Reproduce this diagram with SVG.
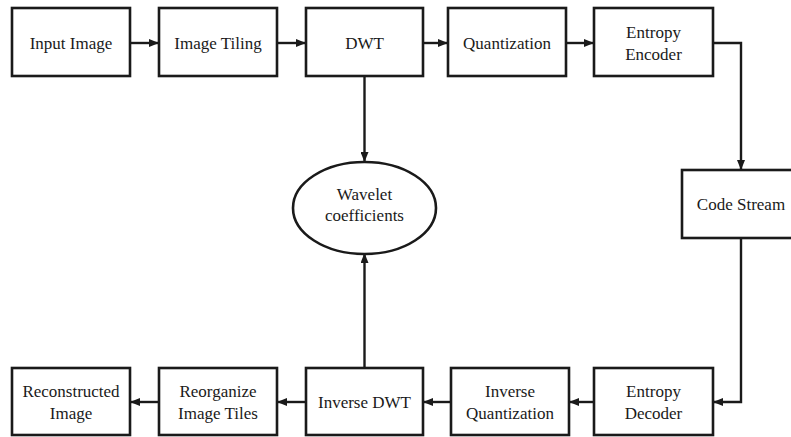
<svg xmlns="http://www.w3.org/2000/svg" width="791" height="437" viewBox="0 0 791 437">
<style>
.box{fill:#fff;stroke:#1a1a1a;stroke-width:2.6}
.t{font-family:'Liberation Serif',serif;font-size:17px;fill:#1a1a1a;text-anchor:middle}
.c{fill:none;stroke:#1a1a1a;stroke-width:2.4}
</style>
<defs>
<marker id="ah" markerWidth="10" markerHeight="8" refX="9" refY="4" orient="auto" markerUnits="userSpaceOnUse">
<path d="M0,0 L10,4 L0,8 z" fill="#1a1a1a"/>
</marker>
</defs>
<rect width="791" height="437" fill="#fff"/>
<g id="connectors">
<line class="c" x1="130" y1="43" x2="158" y2="43" marker-end="url(#ah)"/>
<line class="c" x1="277" y1="43" x2="305" y2="43" marker-end="url(#ah)"/>
<line class="c" x1="423" y1="43" x2="447" y2="43" marker-end="url(#ah)"/>
<line class="c" x1="566" y1="43" x2="593" y2="43" marker-end="url(#ah)"/>
<polyline class="c" points="713,43 741,43 741,169" marker-end="url(#ah)"/>
<polyline class="c" points="741,238 741,402 714,402" marker-end="url(#ah)"/>
<line class="c" x1="594" y1="402" x2="570" y2="402" marker-end="url(#ah)"/>
<line class="c" x1="451" y1="402" x2="424" y2="402" marker-end="url(#ah)"/>
<line class="c" x1="306" y1="402" x2="278" y2="402" marker-end="url(#ah)"/>
<line class="c" x1="159" y1="402" x2="131" y2="402" marker-end="url(#ah)"/>
<line class="c" x1="364.5" y1="76" x2="364.5" y2="161" marker-end="url(#ah)"/>
<line class="c" x1="364.5" y1="368" x2="364.5" y2="254" marker-end="url(#ah)"/>
</g>
<g id="input-image"><rect class="box" x="12" y="8" width="118" height="68"/><text class="t" font-family="Liberation Serif, serif" x="71" y="49">Input Image</text></g>
<g id="image-tiling"><rect class="box" x="159" y="8" width="118" height="68"/><text class="t" font-family="Liberation Serif, serif" x="218" y="49">Image Tiling</text></g>
<g id="dwt"><rect class="box" x="306" y="8" width="117" height="68"/><text class="t" font-family="Liberation Serif, serif" x="364.5" y="49">DWT</text></g>
<g id="quantization"><rect class="box" x="448" y="8" width="118" height="68"/><text class="t" font-family="Liberation Serif, serif" x="507" y="49">Quantization</text></g>
<g id="entropy-encoder"><rect class="box" x="594" y="8" width="119" height="68"/><text class="t" font-family="Liberation Serif, serif" x="653.5" y="38">Entropy</text><text class="t" font-family="Liberation Serif, serif" x="653.5" y="60">Encoder</text></g>
<g id="code-stream"><rect class="box" x="682" y="170" width="118" height="68"/><text class="t" font-family="Liberation Serif, serif" x="741" y="210">Code Stream</text></g>
<g id="wavelet-coefficients"><ellipse class="box" cx="364.5" cy="208" rx="71.5" ry="46"/><text class="t" font-family="Liberation Serif, serif" x="364.5" y="200">Wavelet</text><text class="t" font-family="Liberation Serif, serif" x="364.5" y="221">coefficients</text></g>
<g id="entropy-decoder"><rect class="box" x="594" y="368" width="119" height="67"/><text class="t" font-family="Liberation Serif, serif" x="653.5" y="397">Entropy</text><text class="t" font-family="Liberation Serif, serif" x="653.5" y="419">Decoder</text></g>
<g id="inverse-quantization"><rect class="box" x="451" y="368" width="118" height="67"/><text class="t" font-family="Liberation Serif, serif" x="510" y="397">Inverse</text><text class="t" font-family="Liberation Serif, serif" x="510" y="419">Quantization</text></g>
<g id="inverse-dwt"><rect class="box" x="306" y="368" width="117" height="67"/><text class="t" font-family="Liberation Serif, serif" x="364.5" y="408">Inverse DWT</text></g>
<g id="reorganize-image-tiles"><rect class="box" x="159" y="368" width="118" height="67"/><text class="t" font-family="Liberation Serif, serif" x="218" y="397">Reorganize</text><text class="t" font-family="Liberation Serif, serif" x="218" y="419">Image Tiles</text></g>
<g id="reconstructed-image"><rect class="box" x="12" y="368" width="118" height="67"/><text class="t" font-family="Liberation Serif, serif" x="71" y="397">Reconstructed</text><text class="t" font-family="Liberation Serif, serif" x="71" y="419">Image</text></g>
</svg>
